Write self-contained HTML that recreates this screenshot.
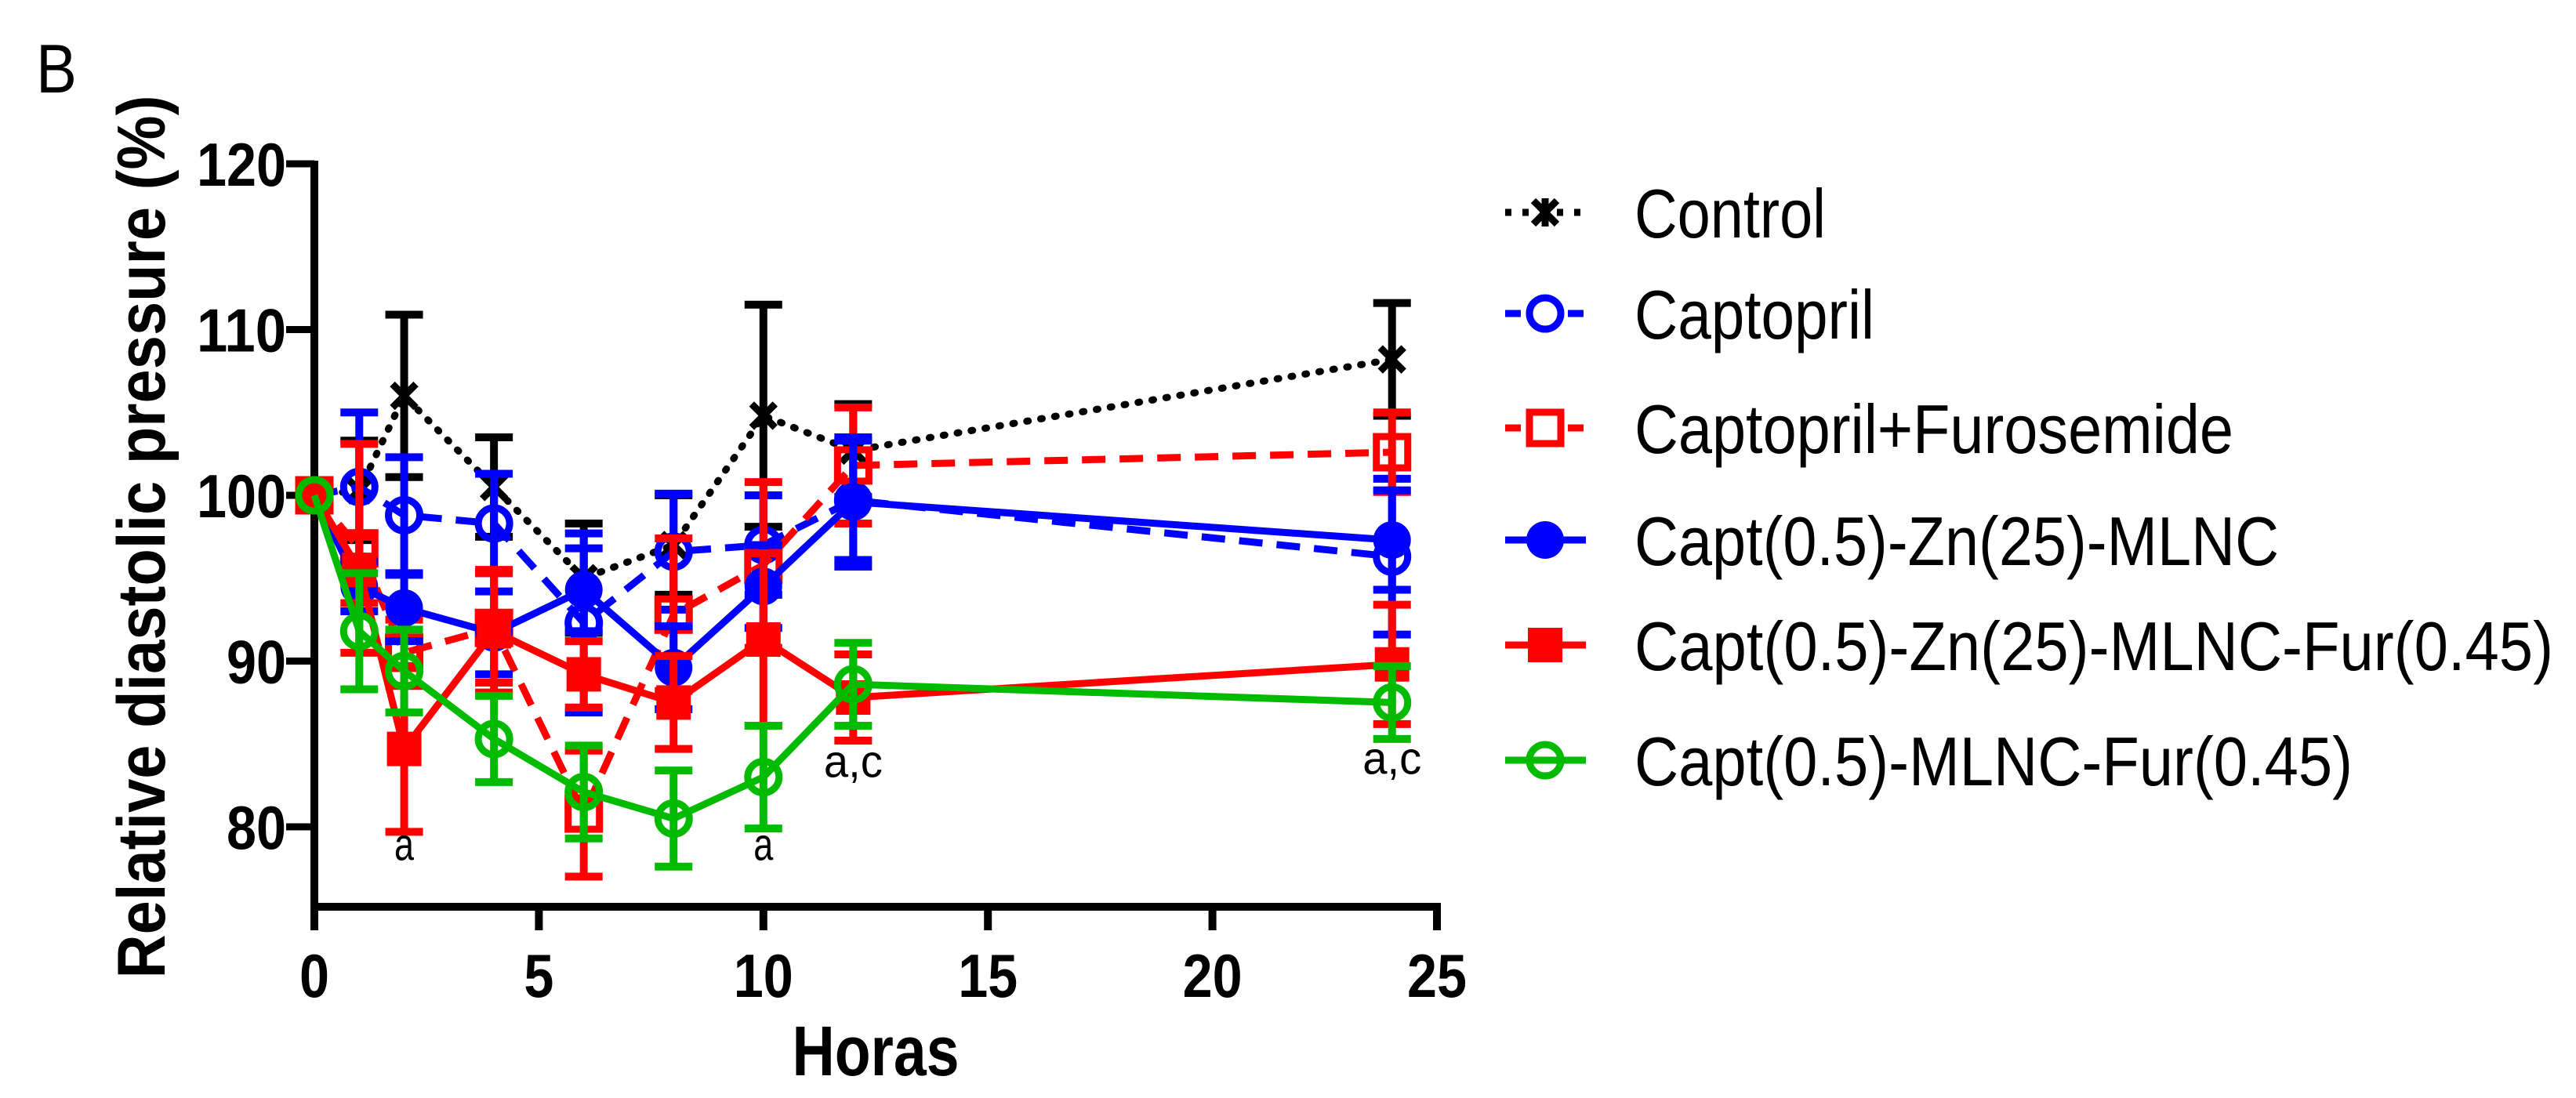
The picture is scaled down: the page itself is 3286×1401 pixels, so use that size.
<!DOCTYPE html>
<html><head><meta charset="utf-8"><style>
html,body{margin:0;padding:0;background:#fff;}
svg{display:block;font-family:"Liberation Sans",Arial,sans-serif;}
</style></head><body>
<svg id="chart" width="3286" height="1401" viewBox="0 0 3286 1401">
<text x="46" y="118" font-size="88" textLength="52" lengthAdjust="spacingAndGlyphs">B</text>
<g id="axes"></g>
<g id="series"></g>
<g id="legend"></g>
</svg>
<script>
const times = [0, 1, 2, 4, 6, 8, 10, 12, 24];
const controlVals = [100, 100.3, 106, 100.5, 95, 97, 104.8, 102.7, 108.2];
const controlErr = [0, 3, 4.9, 3, 3.3, 3, 6.7, 2.8, 3.4];
const captoVals = [100, 100.5, 98.8, 98.3, 92.3, 96.6, 97, 99.7, 96.3];
const captoErr = [0, 4.5, 3.5, 3, 5.4, 3.5, 3, 3.6, 4.7];
const capFuroVals = [100, 96.8, 90.5, 92, 80.8, 92.8, 95.8, 101.8, 102.6];
const capFuroErr = [0, 6.3, 2, 3.3, 3.8, 4.6, 5, 3.5, 2.4];
const mlncVals = [100, 94.5, 93.2, 91.7, 94.3, 89.6, 94.5, 99.6, 97.3];
const mlncErr = [0, 1.5, 2, 2.5, 2.5, 2.5, 2.5, 3.9, 3];
const mlncFurVals = [100, 95.5, 84.7, 91.8, 89.2, 87.5, 91.3, 87.8, 89.8];
const mlncFurErr = [0, 2, 5, 3.7, 2, 2.8, 5.2, 2.6, 3.6];
const greenVals = [100, 91.8, 89.4, 85.3, 82.1, 80.5, 83, 88.6, 87.5];
const greenErr = [0, 3.5, 2.5, 2.6, 2.8, 2.9, 3.1, 2.5, 2.2];
const xTicks = [0, 5, 10, 15, 20, 25];
const yTicks = [80, 90, 100, 110, 120];
const legendLabels = ["Control", "Captopril", "Captopril+Furosemide", "Capt(0.5)-Zn(25)-MLNC", "Capt(0.5)-Zn(25)-MLNC-Fur(0.45)", "Capt(0.5)-MLNC-Fur(0.45)"];
const annotTimes = [2, 10, 12, 24];
const annotVals = [78.0, 78.0, 83.0, 83.2];
const annotText = ["a", "a", "a,c", "a,c"];

const NS = "http://www.w3.org/2000/svg";
const X0 = 401, X1 = 1833, Y120 = 209, Y80 = 1055, YB = 1157;
const xs = v => X0 + (v - 0) / 25 * (X1 - X0);
const ys = v => Y80 - (v - 80) / 40 * (Y80 - Y120);
function mk(tag, attrs, parent) {
  const e = document.createElementNS(NS, tag);
  for (const k in attrs) e.setAttribute(k, attrs[k]);
  parent.appendChild(e);
  return e;
}
const axes = document.getElementById('axes');
let el = mk('line', {x1: X0, y1: Y120 - 4, x2: X0, y2: YB + 5, stroke: '#000', 'stroke-width': 10}, axes);


el = mk('line', {x1: X0 - 5, y1: YB, x2: X1 + 5, y2: YB, stroke: '#000', 'stroke-width': 10}, axes);


yTicks.forEach(t => {
  const y = ys(t);
  let tk = mk('line', {x1: X0 - 36, y1: y, x2: X0, y2: y, stroke: '#000', 'stroke-width': 9}, axes);
  
  
  let lb = mk('text', {x: 365, y: y + 28, 'font-size': 78, 'font-weight': 'bold', 'text-anchor': 'end', textLength: String(t).length * 38, lengthAdjust: 'spacingAndGlyphs'}, axes);
  lb.textContent = t;
  
  
});
xTicks.forEach(t => {
  const x = xs(t);
  let tk = mk('line', {x1: x, y1: YB, x2: x, y2: YB + 30, stroke: '#000', 'stroke-width': 10}, axes);
  
  
  let lb = mk('text', {x: x, y: 1272, 'font-size': 78, 'font-weight': 'bold', 'text-anchor': 'middle', textLength: String(t).length * 38, lengthAdjust: 'spacingAndGlyphs'}, axes);
  lb.textContent = t;
  
  
});
el = mk('text', {x: 1117, y: 1372, 'font-size': 90, 'font-weight': 'bold', 'text-anchor': 'middle', textLength: 213, lengthAdjust: 'spacingAndGlyphs'}, axes);
el.textContent = 'Horas';


el = mk('text', {x: 0, y: 0, 'font-size': 86, 'font-weight': 'bold', 'text-anchor': 'middle', textLength: 1127, lengthAdjust: 'spacingAndGlyphs', transform: 'translate(210,685) rotate(-90)'}, axes);
el.textContent = 'Relative diastolic pressure (%)';



const seriesDefs = [
  {vals: controlVals, err: controlErr, color: '#000', dash: '2 16', marker: 'x', name: 'control'},
  {vals: captoVals, err: captoErr, color: '#0000ff', dash: '30 18', marker: 'ocircle', name: 'captopril'},
  {vals: capFuroVals, err: capFuroErr, color: '#ff0000', dash: '30 18', marker: 'osquare', name: 'captopril-furosemide'},
  {vals: mlncVals, err: mlncErr, color: '#0000ff', dash: '', marker: 'fcircle', name: 'capt-zn-mlnc'},
  {vals: mlncFurVals, err: mlncFurErr, color: '#ff0000', dash: '', marker: 'fsquare', name: 'capt-zn-mlnc-fur'},
  {vals: greenVals, err: greenErr, color: '#00bb00', dash: '', marker: 'ocircle', name: 'capt-mlnc-fur'}
];
function drawMarker(g, type, x, y, c) {
  let m;
  if (type === 'x') {
    m = mk('path', {d: `M${x-15},${y-15}L${x+15},${y+15}M${x+15},${y-15}L${x-15},${y+15}M${x},${y-18}L${x},${y+18}`, stroke: c, 'stroke-width': 9, fill: 'none'}, g);
  } else if (type === 'ocircle') {
    m = mk('circle', {cx: x, cy: y, r: 20, fill: 'none', stroke: c, 'stroke-width': 9}, g);
  } else if (type === 'fcircle') {
    m = mk('circle', {cx: x, cy: y, r: 24, fill: c}, g);
  } else if (type === 'osquare') {
    m = mk('rect', {x: x - 20, y: y - 20, width: 40, height: 40, fill: 'none', stroke: c, 'stroke-width': 9}, g);
  } else {
    m = mk('rect', {x: x - 22, y: y - 22, width: 44, height: 44, fill: c}, g);
  }
  return m;
}
const sl = document.getElementById('series');
seriesDefs.forEach(s => {
  const g = mk('g', {}, sl);
  
  
  times.forEach((t, i) => {
    if (!s.err[i]) return;
    const x = xs(t), yt = ys(s.vals[i] + s.err[i]), yb = ys(s.vals[i] - s.err[i]);
    const eb = mk('path', {d: `M${x},${yt}L${x},${yb}M${x-24},${yt}L${x+24},${yt}M${x-24},${yb}L${x+24},${yb}`, stroke: s.color, 'stroke-width': 10, fill: 'none'}, g);
    
    
  });
  const pts = times.map((t, i) => xs(t) + ',' + ys(s.vals[i])).join(' ');
  const pl = mk('polyline', {points: pts, fill: 'none', stroke: s.color, 'stroke-width': 9, 'stroke-dasharray': s.dash, 'stroke-linecap': s.marker === 'x' ? 'round' : 'butt'}, g);
  
  
  times.forEach((t, i) => {
    const m = drawMarker(g, s.marker, xs(t), ys(s.vals[i]), s.color);
    
    
  });
});
annotTimes.forEach((t, i) => {
  const a = mk('text', {x: xs(t), y: ys(annotVals[i]), 'font-size': 58, 'text-anchor': 'middle', textLength: annotText[i].length * 25, lengthAdjust: 'spacingAndGlyphs'}, sl);
  a.textContent = annotText[i];
  
  
});
const legendY = [271, 400, 546, 689, 823, 970];
const legendW = [244, 306, 764, 822, 1172, 916];
const lg = document.getElementById('legend');
legendLabels.forEach((lab, i) => {
  const s = seriesDefs[i];
  const g = mk('g', {}, lg);
  
  
  const y = legendY[i];
  const ln = mk('line', {x1: 1920, y1: y, x2: 2023, y2: y, stroke: s.color, 'stroke-width': 9, 'stroke-dasharray': s.dash ? (s.marker === 'x' ? '8 14' : '20 60') : ''}, g);
  
  
  const m = drawMarker(g, s.marker, 1971, y, s.color);
  
  
  const tx = mk('text', {x: 2085, y: y + 32, 'font-size': 88, textLength: legendW[i], lengthAdjust: 'spacingAndGlyphs'}, g);
  tx.textContent = lab;
  
  
});
</script>
</body></html>
